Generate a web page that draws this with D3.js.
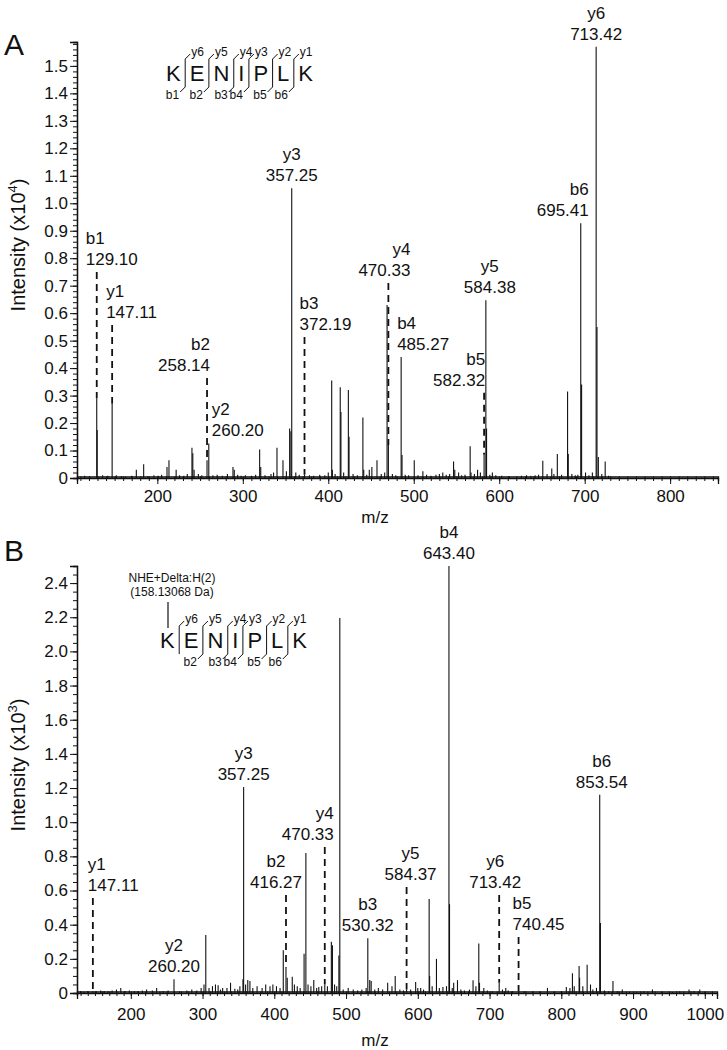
<!DOCTYPE html>
<html>
<head>
<meta charset="utf-8">
<style>
  body { margin: 0; background: #fff; }
  svg { font-family: "Liberation Sans", Arial, sans-serif; }
</style>
</head>
<body>
<svg width="727" height="1050"></svg>
<script src="https://d3js.org/d3.v7.min.js"></script>
<script>

// ---------- panel A data (intensity in x10^4) ----------
var mzA = [115, 121, 129.6, 136, 142, 152, 158, 163, 170, 175.4,
           184, 189, 196, 201, 205, 211.3, 213.6, 222, 226, 231,
           235, 240.5, 241.5, 243, 248, 252, 265, 270, 276, 282,
           288.5, 290, 294, 298, 303, 310, 315, 319.7, 321, 326,
           333, 336, 340, 347, 351, 354.8, 356.3, 362, 366, 378,
           383, 390, 396, 400, 404, 404.8, 408, 414, 414.8, 418,
           423.5, 424.3, 429, 434, 440.5, 441.5, 445, 448, 451, 457,
           462, 466, 468.8, 475, 479, 486.3, 490, 494, 500.6, 505,
           510.7, 515, 520, 526, 530, 534, 538, 542, 546.6, 548,
           552.5, 556, 560, 566, 567, 571, 574.7, 578, 585.2, 589,
           592, 596, 603, 612, 626, 632, 637, 642, 646, 651,
           656, 661.5, 664, 668, 673, 680, 680.8, 685, 689, 692,
           696.4, 701, 705, 709, 714.4, 716, 720, 724, 728];
var intA = [0.008, 0.005, 0.175, 0.01, 0.008, 0.01, 0.006, 0.005, 0.008, 0.03,
            0.05, 0.006, 0.01, 0.008, 0.012, 0.04, 0.065, 0.03, 0.01, 0.008,
            0.015, 0.11, 0.09, 0.03, 0.015, 0.01, 0.01, 0.012, 0.008, 0.015,
            0.04, 0.03, 0.012, 0.008, 0.01, 0.008, 0.012, 0.104, 0.04, 0.01,
            0.015, 0.02, 0.11, 0.065, 0.025, 0.18, 0.17, 0.02, 0.012, 0.01,
            0.008, 0.012, 0.01, 0.02, 0.355, 0.03, 0.015, 0.33, 0.24, 0.02,
            0.32, 0.15, 0.015, 0.01, 0.22, 0.03, 0.012, 0.03, 0.04, 0.065,
            0.015, 0.02, 0.63, 0.015, 0.01, 0.084, 0.012, 0.01, 0.065, 0.01,
            0.025, 0.012, 0.008, 0.012, 0.015, 0.02, 0.012, 0.015, 0.06, 0.03,
            0.02, 0.01, 0.012, 0.116, 0.02, 0.015, 0.03, 0.02, 0.18, 0.012,
            0.02, 0.01, 0.008, 0.006, 0.008, 0.01, 0.008, 0.01, 0.012, 0.063,
            0.015, 0.035, 0.015, 0.087, 0.012, 0.315, 0.087, 0.015, 0.01, 0.012,
            0.34, 0.02, 0.01, 0.02, 0.55, 0.076, 0.015, 0.06, 0.008];

var ionA    = ["b1", "y1", "b2", "y2", "y3", "b3", "y4", "b4", "b5", "y5", "b6", "y6"];
var ionMzA  = [129.10, 147.11, 258.14, 260.20, 357.25, 372.19, 470.33, 485.27, 582.32, 584.38, 695.41, 713.42];
var ionIntA = [0.29, 0.27, 0.065, 0.126, 1.055, 0.012, 0.12, 0.44, 0.085, 0.647, 0.927, 1.57];

var yTicksA = [0, 0.1, 0.2, 0.3, 0.4, 0.5, 0.6, 0.7, 0.8, 0.9, 1.0, 1.1, 1.2, 1.3, 1.4, 1.5];
var xTicksA = [200, 300, 400, 500, 600, 700, 800];

// ---------- panel B data (intensity in x10^3) ----------
var mzB = [130, 135, 140, 152, 158, 163, 168, 174, 180, 186,
           192, 198, 205, 210, 216, 222, 230, 236, 245, 252,
           268, 278, 285, 292, 298, 302, 304.5, 309, 313.8, 318,
           321.7, 325, 328, 334, 339, 345, 349, 352, 356.3, 360,
           363, 366, 370, 376, 383, 388, 394, 398, 403, 408,
           412.5, 418, 425, 428, 432, 436, 441.5, 444, 447, 451,
           455, 459, 462, 466, 474, 479.5, 481, 484, 487, 490,
           491.3, 496, 503, 510, 516, 522, 528, 533, 535, 540,
           545, 551, 558, 564, 568.5, 575, 580, 590, 597, 600,
           604, 608, 615.8, 616.5, 620, 626, 630, 635, 640, 644.2,
           648, 650, 655.3, 660, 665, 672, 677, 681, 685, 686,
           692, 697, 704, 718, 722.6, 726, 732, 748, 760, 770,
           780.7, 790, 800, 807, 812, 815.5, 818, 824.8, 825.5, 830,
           836, 840.7, 844, 849, 854.5, 860, 866, 872, 878, 885,
           895, 905, 915, 927, 940, 955, 965, 978, 985, 993, 1000];
var intB = [0.01, 0.008, 0.012, 0.01, 0.015, 0.012, 0.01, 0.015, 0.02, 0.03,
            0.012, 0.015, 0.01, 0.012, 0.015, 0.02, 0.015, 0.03, 0.012, 0.015,
            0.01, 0.015, 0.02, 0.015, 0.03, 0.05, 0.34, 0.03, 0.04, 0.05,
            0.045, 0.02, 0.03, 0.03, 0.06, 0.025, 0.02, 0.04, 0.08, 0.05,
            0.076, 0.07, 0.03, 0.04, 0.03, 0.05, 0.04, 0.05, 0.04, 0.03,
            0.25, 0.09, 0.095, 0.05, 0.04, 0.03, 0.23, 0.82, 0.05, 0.04,
            0.076, 0.03, 0.035, 0.04, 0.04, 0.30, 0.28, 0.05, 0.04, 0.22,
            2.195, 0.02, 0.03, 0.02, 0.015, 0.02, 0.03, 0.076, 0.07, 0.02,
            0.03, 0.02, 0.06, 0.04, 0.1, 0.02, 0.015, 0.02, 0.065, 0.03,
            0.03, 0.02, 0.55, 0.1, 0.04, 0.2, 0.03, 0.035, 0.04, 0.52,
            0.03, 0.06, 0.075, 0.02, 0.015, 0.02, 0.075, 0.04, 0.29, 0.06,
            0.03, 0.015, 0.01, 0.02, 0.03, 0.015, 0.01, 0.01, 0.01, 0.008,
            0.03, 0.008, 0.01, 0.035, 0.03, 0.115, 0.04, 0.158, 0.09, 0.04,
            0.165, 0.05, 0.02, 0.03, 0.41, 0.015, 0.01, 0.07, 0.01, 0.02,
            0.008, 0.008, 0.01, 0.02, 0.008, 0.006, 0.01, 0.02, 0.012, 0.02, 0.008];

var ionB    = ["y1", "y2", "y3", "b2", "y4", "b3", "y5", "b4", "y6", "b5", "b6"];
var ionMzB  = [147.11, 260.20, 357.25, 416.27, 470.33, 530.32, 584.37, 643.40, 713.42, 740.45, 853.54];
var ionIntB = [0.01, 0.08, 1.206, 0.15, 0.05, 0.32, 0.02, 2.50, 0.06, 0.01, 1.16];

var yTicksB = [0, 0.2, 0.4, 0.6, 0.8, 1.0, 1.2, 1.4, 1.6, 1.8, 2.0, 2.2, 2.4];
var xTicksB = [200, 300, 400, 500, 600, 700, 800, 900, 1000];

// ---------- sequence diagram ----------
var seq = ["K", "E", "N", "I", "P", "L", "K"];
var seqYIons  = ["y6", "y5", "y4", "y3", "y2", "y1"];
var seqBIonsA = ["b1", "b2", "b3", "b4", "b5", "b6"];
var seqBIonsB = ["", "b2", "b3", "b4", "b5", "b6"];
var modLines = ["NHE+Delta:H(2)", "(158.13068 Da)"];

// label placement: dashed leader start level (in intensity units), anchor, x shift
var layoutA = {
  b1: {lead: 0.75, anchor: "start", dx: -11},
  y1: {lead: 0.557, anchor: "start", dx: -6},
  b2: {lead: 0.364, anchor: "end", dx: 3},
  y2: {anchor: "start", dx: 3},
  y3: {anchor: "middle", dx: 0},
  b3: {lead: 0.513, anchor: "start", dx: -5},
  y4: {lead: 0.71, anchor: "end", dx: 22},
  b4: {anchor: "start", dx: -4},
  b5: {lead: 0.31, anchor: "end", dx: 1},
  y5: {anchor: "middle", dx: 4},
  b6: {anchor: "end", dx: 8},
  y6: {anchor: "middle", dx: 0}
};
var layoutB = {
  y1: {lead: 0.556, anchor: "start", dx: -5},
  y2: {anchor: "middle", dx: 0},
  y3: {anchor: "middle", dx: 0},
  b2: {lead: 0.574, anchor: "middle", dx: -10},
  y4: {lead: 0.855, anchor: "end", dx: 9},
  b3: {anchor: "middle", dx: 0},
  y5: {lead: 0.62, anchor: "middle", dx: 4},
  b4: {anchor: "middle", dx: 0},
  y6: {lead: 0.574, anchor: "middle", dx: -4},
  b5: {lead: 0.328, anchor: "start", dx: -6},
  b6: {anchor: "middle", dx: 2}
};

var svg = d3.select("svg");

function drawPanel(p) {
  var g = svg.append("g");
  var x = d3.scaleLinear().domain(p.xDomain).range([77, p.xRight]);
  var y = d3.scaleLinear().domain(p.yDomain).range([p.y0, p.yTop]);

  // axes
  var fmt = function(d) { return d === 0 ? "0" : d3.format(".1f")(d); };
  g.append("g").attr("class", "ax").attr("transform", "translate(77,0)")
    .call(d3.axisLeft(y).tickValues(p.yMinor).tickSize(4).tickFormat(""));
  g.append("g").attr("class", "ax").attr("transform", "translate(77,0)")
    .call(d3.axisLeft(y).tickValues(p.yTicks).tickSize(7).tickPadding(2).tickFormat(fmt));
  g.append("g").attr("class", "ax").attr("transform", "translate(0," + (p.y0 - 1.5) + ")")
    .call(d3.axisBottom(x).tickValues(p.xMinor).tickSize(4.5).tickFormat(""));
  g.append("g").attr("class", "ax").attr("transform", "translate(0," + p.y0 + ")")
    .call(d3.axisBottom(x).tickValues(p.xTicks).tickSize(6).tickPadding(p.xPad).tickFormat(d3.format("d")));

  g.selectAll(".ax").attr("font-family", null).attr("font-size", 17);
  g.selectAll(".ax text").attr("fill", "#111");
  g.selectAll(".ax line").attr("stroke", "#111");
  g.selectAll(".ax .domain").attr("stroke", "#111").attr("stroke-width", 1.3);

  // peaks
  var peaks = d3.zip(p.mz, p.int).concat(d3.zip(p.ionMz, p.ionInt));
  g.append("g").selectAll("line").data(peaks).enter().append("line")
    .attr("x1", function(d) { return x(d[0]); })
    .attr("x2", function(d) { return x(d[0]); })
    .attr("y1", y(0))
    .attr("y2", function(d) { return y(d[1]); })
    .attr("stroke", "#111").attr("stroke-width", 1.1);

  // annotations
  p.ions.forEach(function(name, i) {
    var L = p.layout[name];
    var px = x(p.ionMz[i]), top = y(p.ionInt[i]);
    var base = top - 7;
    if (L.lead !== undefined) {
      var lt = y(L.lead);
      g.append("line").attr("x1", px).attr("x2", px).attr("y1", lt).attr("y2", top)
        .attr("stroke", "#111").attr("stroke-width", 1.8).attr("stroke-dasharray", "7,5");
      base = lt - 7;
    }
    var t = g.append("text").attr("text-anchor", L.anchor).attr("font-size", 17).attr("fill", "#111");
    t.append("tspan").attr("x", px + L.dx).attr("y", base - 21).text(name);
    t.append("tspan").attr("x", px + L.dx).attr("y", base).text(d3.format(".2f")(p.ionMz[i]));
  });

  // titles
  svg.append("text").attr("x", 4).attr("y", p.letterY).attr("font-size", 30).attr("fill", "#111").text(p.letter);
  svg.append("text").attr("x", 375).attr("y", p.xTitleY).attr("text-anchor", "middle")
    .attr("font-size", 17).attr("fill", "#111").text("m/z");
  var yt = svg.append("text").attr("transform", "translate(25," + p.yTitleY + ") rotate(-90)")
    .attr("text-anchor", "middle").attr("font-size", 20).attr("fill", "#111");
  yt.append("tspan").text("Intensity (x10");
  yt.append("tspan").attr("font-size", 13).attr("dy", -8).text(p.exp);
  yt.append("tspan").attr("dy", 8).text(")");
}

function drawSeq(x0, yc, bIons) {
  var g = svg.append("g").attr("fill", "#111");
  var cur = x0, pad = 4.5, seps = [];
  seq.forEach(function(ch, i) {
    var t = g.append("text").attr("x", cur).attr("y", yc + 8).attr("font-size", 22).text(ch);
    cur += t.node().getComputedTextLength();
    if (i < seq.length - 1) { cur += pad; seps.push(cur); cur += pad; }
  });
  seps.forEach(function(xs, i) {
    var top = yc - 14, bot = yc + 14;
    var d = (bIons[i] ? "M" + (xs - 5) + "," + (bot + 5) + "L" + xs + "," + bot : "M" + xs + "," + bot) +
            "V" + top + "l5,-5";
    g.append("path").attr("d", d).attr("fill", "none").attr("stroke", "#111").attr("stroke-width", 1);
    g.append("text").attr("x", xs + 6).attr("y", top - 3).attr("font-size", 12).text(seqYIons[i]);
    if (bIons[i]) {
      g.append("text").attr("x", xs - 6).attr("y", bot + 12).attr("text-anchor", "end")
        .attr("font-size", 12).text(bIons[i]);
    }
  });
  return g;
}

drawPanel({
  mz: mzA, int: intA, ions: ionA, ionMz: ionMzA, ionInt: ionIntA, layout: layoutA,
  xDomain: [106, 856], xRight: 718, yDomain: [0, 1.587], y0: 478, yTop: 42,
  yTicks: yTicksA, yMinor: d3.range(0, 1.585, 0.02),
  xTicks: xTicksA, xMinor: d3.range(110, 856, 10), xPad: 6,
  letter: "A", letterY: 55, xTitleY: 523, yTitleY: 245, exp: "4"
});

drawPanel({
  mz: mzB, int: intB, ions: ionB, ionMz: ionMzB, ionInt: ionIntB, layout: layoutB,
  xDomain: [125, 1017], xRight: 717, yDomain: [0, 2.5], y0: 993, yTop: 566,
  yTicks: yTicksB, yMinor: d3.range(0, 2.51, 0.05),
  xTicks: xTicksB, xMinor: d3.range(130, 1017, 10), xPad: 9,
  letter: "B", letterY: 561, xTitleY: 1046, yTitleY: 765, exp: "3"
});

drawSeq(166, 73, seqBIonsA);
var gB = drawSeq(160, 640, seqBIonsB);
gB.append("line").attr("x1", 168).attr("x2", 168).attr("y1", 602).attr("y2", 628)
  .attr("stroke", "#111").attr("stroke-width", 1.2);
gB.append("text").attr("text-anchor", "middle").attr("font-size", 12)
  .selectAll("tspan").data(modLines).enter().append("tspan")
  .attr("x", 172).attr("y", function(d, i) { return 582 + i * 14; })
  .text(function(d) { return d; });

</script>
</body>
</html>
